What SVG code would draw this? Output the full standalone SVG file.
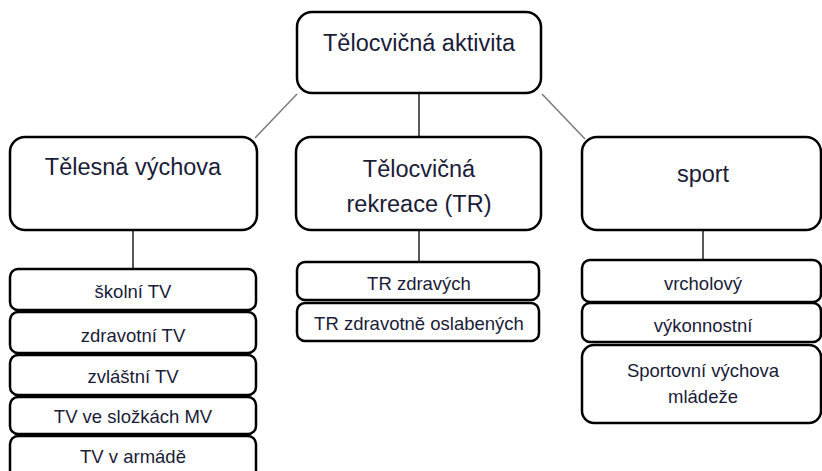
<svg xmlns="http://www.w3.org/2000/svg" width="822" height="471" viewBox="0 0 822 471">
<style>
.box{fill:#fff;stroke:#000;stroke-width:2.5}
.big{font-family:"Liberation Sans",Arial,sans-serif;font-size:23.5px;fill:#1a1c38;text-anchor:middle}
.sm{font-family:"Liberation Sans",Arial,sans-serif;font-size:18.5px;fill:#1a1c38;text-anchor:middle}
.c{stroke:#222;stroke-width:1.5;fill:none}
.d{stroke:#7a7a7a;stroke-width:1.5;fill:none}
</style>
<rect width="822" height="471" fill="#fff"/>
<g id="connectors">
<line class="d" x1="297" y1="94" x2="255" y2="138"/>
<line class="d" x1="542" y1="94" x2="585" y2="139"/>
<line class="c" x1="419" y1="93" x2="419" y2="137"/>
<line class="c" x1="133" y1="230" x2="133" y2="269"/>
<line class="c" x1="419" y1="230" x2="419" y2="262"/>
<line class="c" x1="703" y1="230" x2="703" y2="260"/>
</g>
<g id="n-top"><rect class="box" x="297" y="12" width="244" height="81" rx="15"/><text class="big" x="419" y="51">Tělocvičná aktivita</text></g>
<g id="n-tv"><rect class="box" x="10" y="137" width="247" height="93" rx="15"/><text class="big" x="133" y="175">Tělesná výchova</text></g>
<g id="n-tr"><rect class="box" x="296" y="137" width="245" height="93" rx="15"/><text class="big" x="419" y="177">Tělocvičná</text><text class="big" x="419" y="212">rekreace (TR)</text></g>
<g id="n-sport"><rect class="box" x="582" y="137" width="239" height="93" rx="15"/><text class="big" x="703" y="182">sport</text></g>
<g id="tv1"><rect class="box" x="10" y="269" width="246" height="41" rx="8"/><text class="sm" x="133" y="298">školní TV</text></g>
<g id="tv2"><rect class="box" x="10" y="312" width="246" height="41" rx="8"/><text class="sm" x="133" y="342">zdravotní TV</text></g>
<g id="tv3"><rect class="box" x="10" y="355" width="246" height="40" rx="8"/><text class="sm" x="133" y="383">zvláštní TV</text></g>
<g id="tv4"><rect class="box" x="10" y="397" width="246" height="37" rx="8"/><text class="sm" x="133" y="423">TV ve složkách MV</text></g>
<g id="tv5"><rect class="box" x="10" y="436" width="246" height="50" rx="8"/><text class="sm" x="133" y="463">TV v armádě</text></g>
<g id="tr1"><rect class="box" x="297" y="262" width="242" height="38" rx="8"/><text class="sm" x="419" y="290">TR zdravých</text></g>
<g id="tr2"><rect class="box" x="297" y="303" width="242" height="38" rx="8"/><text class="sm" x="419" y="330">TR zdravotně oslabených</text></g>
<g id="s1"><rect class="box" x="582" y="260" width="239" height="42" rx="8"/><text class="sm" x="703" y="290">vrcholový</text></g>
<g id="s2"><rect class="box" x="582" y="303" width="239" height="39" rx="8"/><text class="sm" x="703" y="332">výkonnostní</text></g>
<g id="s3"><rect class="box" x="582" y="345" width="239" height="78" rx="12"/><text class="sm" x="703" y="377">Sportovní výchova</text><text class="sm" x="703" y="403">mládeže</text></g>
</svg>
